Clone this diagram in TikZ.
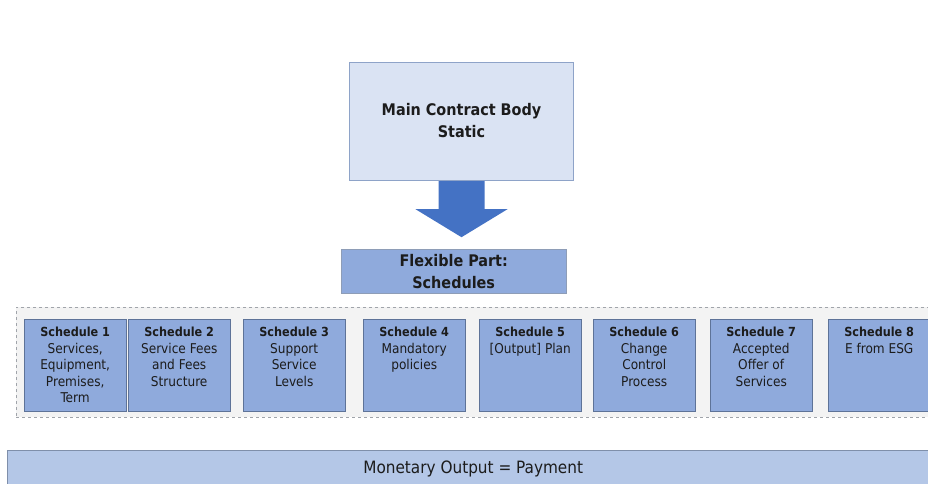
\documentclass[tikz,border=0pt]{standalone}
\usepackage{fontspec}
\setmainfont{DejaVu Sans Condensed}
\usetikzlibrary{calc}

\definecolor{mainfill}{HTML}{DAE3F3}
\definecolor{mainline}{HTML}{8EA3C8}
\definecolor{schedfill}{HTML}{8FAADC}
\definecolor{schedline}{HTML}{5E7398}
\definecolor{groupfill}{HTML}{F3F3F3}
\definecolor{groupline}{HTML}{A0A4AA}
\definecolor{payfill}{HTML}{B4C7E7}
\definecolor{payline}{HTML}{7F8FAA}
\definecolor{arrowfill}{HTML}{4472C4}
\definecolor{ink}{HTML}{1C1C1C}

\begin{document}
\begin{tikzpicture}[x=1pt, y=-1pt, text=ink,
  sched/.style={draw=schedline, fill=schedfill, anchor=north west, minimum width=102pt, minimum height=92pt, inner sep=0pt},
  schedtext/.style={anchor=north, align=center, inner sep=0pt, font=\fontsize{13.5}{16.5}\selectfont},
  bigtext/.style={align=center, font=\bfseries\fontsize{16}{22}\selectfont}]
\useasboundingbox (0,0) rectangle (928,483);
\clip (0,0) rectangle (928,483);

\node[draw=mainline, fill=mainfill, minimum width=224pt, minimum height=118pt, bigtext] (main) at (461.5,121) {Main Contract Body\\Static};

\draw[fill=arrowfill, draw=none] ($(main.south)+(-23,1)$) --++(46,0) --++(0,28) --++(23,0) --++(-46,28) --++(-46,-28) --++(23,0) -- cycle;

\node[draw=schedline!70, fill=schedfill, anchor=north west, minimum width=225pt, minimum height=44pt, bigtext] (flex) at (341,249) {Flexible Part:\\Schedules};

\node[draw=groupline, dashed, fill=groupfill, anchor=north west, minimum width=930pt, minimum height=110pt] (group) at (16,307) {};

\foreach \i/\x/\t in {1/24/{Services,\\Equipment,\\Premises,\\Term}, 2/128/{Service Fees\\and Fees\\Structure}, 3/243/{Support\\Service\\Levels}, 4/363/{Mandatory\\policies}, 5/479/{[Output] Plan}, 6/593/{Change\\Control\\Process}, 7/710/{Accepted\\Offer of\\Services}, 8/828/{E from ESG}}
{
\node[sched] (s\i) at (\x,319) {};
\node[schedtext] (t\i) at ($(s\i.north)+(0,8)$) {{\bfseries\fontsize{12.5}{16.5}\selectfont Schedule \i}\\\t};
}

\node[draw=payline, fill=payfill, anchor=north west, minimum width=932pt, minimum height=38pt, font=\fontsize{17}{20}\selectfont] (pay) at (7,450) {Monetary Output = Payment};

\end{tikzpicture}
\end{document}
